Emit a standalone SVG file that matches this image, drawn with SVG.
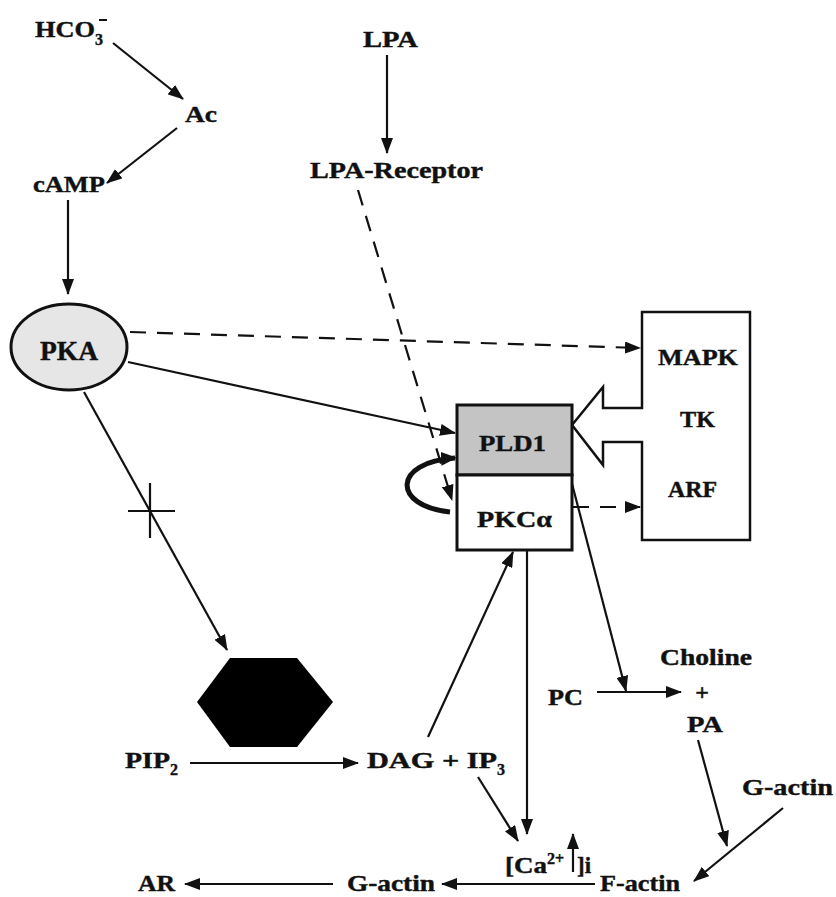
<svg xmlns="http://www.w3.org/2000/svg" width="836" height="897" viewBox="0 0 836 897">
<style>
text{font-family:"Liberation Serif","Times New Roman",serif;font-weight:bold;font-size:23px;fill:#111;stroke:#111;stroke-width:0.4}
.ln{stroke:#111;stroke-width:2.2;fill:none;marker-end:url(#ah)}
.ds{stroke:#111;stroke-width:2.2;fill:none;stroke-dasharray:16 11;marker-end:url(#ah)}
.sub{font-size:16px}
</style>
<defs>
<marker id="ah" markerUnits="userSpaceOnUse" markerWidth="16" markerHeight="12" refX="15" refY="6" orient="auto"><path d="M0,0 L16,6 L0,12 Z" fill="#111"/></marker>
<marker id="big" markerUnits="userSpaceOnUse" markerWidth="16" markerHeight="14" refX="14" refY="7" orient="auto"><path d="M0,0 L16,7 L0,14 Z" fill="#111"/></marker>
</defs>
<rect width="836" height="897" fill="#fff"/>

<g id="connectors">
<line class="ln" x1="113" y1="43" x2="183" y2="99"/>
<line class="ln" x1="177" y1="128" x2="107" y2="183"/>
<line class="ln" x1="68" y1="200" x2="68" y2="294"/>
<line class="ln" x1="387" y1="55" x2="387" y2="153"/>
<line class="ds" x1="358" y1="190" x2="452" y2="500"/>
<line class="ds" x1="130" y1="332" x2="640" y2="348"/>
<line class="ln" x1="128" y1="362" x2="455" y2="433"/>
<line class="ln" x1="84" y1="392" x2="227" y2="650"/>
<line stroke="#111" stroke-width="2.2" x1="128" y1="511" x2="175" y2="511"/>
<line stroke="#111" stroke-width="2.2" x1="150" y1="483" x2="150" y2="538"/>
<path d="M450,512 C392,506 392,462 455,458" stroke="#111" stroke-width="5" fill="none" marker-end="url(#big)"/>
<line class="ds" x1="573" y1="507" x2="640" y2="507"/>
<line class="ln" x1="570" y1="476" x2="626" y2="691"/>
<line class="ln" x1="597" y1="692" x2="681" y2="692"/>
<line class="ln" x1="190" y1="763" x2="358" y2="763"/>
<line class="ln" x1="428" y1="737" x2="513" y2="552"/>
<line class="ln" x1="527" y1="550" x2="527" y2="834"/>
<line class="ln" x1="478" y1="777" x2="518" y2="841"/>
<line class="ln" x1="573" y1="872" x2="573" y2="834"/>
<line class="ln" x1="698" y1="740" x2="727" y2="846"/>
<line class="ln" x1="783" y1="808" x2="694" y2="881"/>
<line class="ln" x1="595" y1="884" x2="442" y2="884"/>
<line class="ln" x1="333" y1="884" x2="185" y2="884"/>
</g>

<g id="hco3"><text x="35" y="37" textLength="60" lengthAdjust="spacingAndGlyphs">HCO</text><text class="sub" x="95" y="45">3</text><line x1="99" y1="20" x2="107" y2="20" stroke="#111" stroke-width="2"/></g>
<g id="ac"><text x="185" y="122" textLength="32" lengthAdjust="spacingAndGlyphs">Ac</text></g>
<g id="camp"><text x="33" y="192" textLength="72" lengthAdjust="spacingAndGlyphs">cAMP</text></g>
<g id="lpa"><text x="363" y="47" textLength="55" lengthAdjust="spacingAndGlyphs">LPA</text></g>
<g id="lpar"><text x="310" y="178" textLength="173" lengthAdjust="spacingAndGlyphs">LPA-Receptor</text></g>
<g id="pka"><ellipse cx="69" cy="347" rx="58" ry="43" fill="#e6e6e6" stroke="#111" stroke-width="3"/><text x="40" y="360" textLength="58" lengthAdjust="spacingAndGlyphs" style="font-size:27px">PKA</text></g>
<g id="kinases"><path d="M642,312 L750,312 L750,540 L642,540 L642,442 L603,442 L603,465 L572,425 L603,387 L603,408 L642,408 Z" fill="#fff" stroke="#111" stroke-width="2.5"/>
<text x="658" y="365" textLength="80" lengthAdjust="spacingAndGlyphs">MAPK</text>
<text x="680" y="427" textLength="35" lengthAdjust="spacingAndGlyphs">TK</text>
<text x="668" y="497" textLength="49" lengthAdjust="spacingAndGlyphs">ARF</text></g>
<g id="pld1"><rect x="457" y="405" width="115" height="70" fill="#c4c4c4" stroke="#111" stroke-width="3"/><text x="479" y="451" textLength="67" lengthAdjust="spacingAndGlyphs">PLD1</text></g>
<g id="pkca"><rect x="457" y="475" width="115" height="75" fill="#fff" stroke="#111" stroke-width="3"/><text x="477" y="527" textLength="75" lengthAdjust="spacingAndGlyphs">PKCα</text></g>
<g id="hexagon"><polygon points="230,658 297,658 333,702 297,747 230,747 197,702" fill="#000"/></g>
<g id="pip2"><text x="125" y="768" textLength="45" lengthAdjust="spacingAndGlyphs">PIP</text><text class="sub" x="170" y="775">2</text></g>
<g id="dagip3"><text x="367" y="768" textLength="130" lengthAdjust="spacingAndGlyphs">DAG + IP</text><text class="sub" x="497" y="775">3</text></g>
<g id="pc"><text x="548" y="705" textLength="35" lengthAdjust="spacingAndGlyphs">PC</text></g>
<g id="cholinepa"><text x="660" y="665" textLength="92" lengthAdjust="spacingAndGlyphs">Choline</text><text x="702" y="700" text-anchor="middle" style="font-size:24px">+</text><text x="687" y="732" textLength="36" lengthAdjust="spacingAndGlyphs">PA</text></g>
<g id="gactin2"><text x="742" y="795" textLength="91" lengthAdjust="spacingAndGlyphs">G-actin</text></g>
<g id="ca"><text x="505" y="873" textLength="42" lengthAdjust="spacingAndGlyphs">[Ca</text><text x="547" y="864" style="font-size:16px">2+</text><text x="577" y="873">]i</text></g>
<g id="factin"><text x="600" y="891" textLength="80" lengthAdjust="spacingAndGlyphs">F-actin</text></g>
<g id="gactin1"><text x="347" y="891" textLength="88" lengthAdjust="spacingAndGlyphs">G-actin</text></g>
<g id="ar"><text x="138" y="891" textLength="37" lengthAdjust="spacingAndGlyphs">AR</text></g>
</svg>
